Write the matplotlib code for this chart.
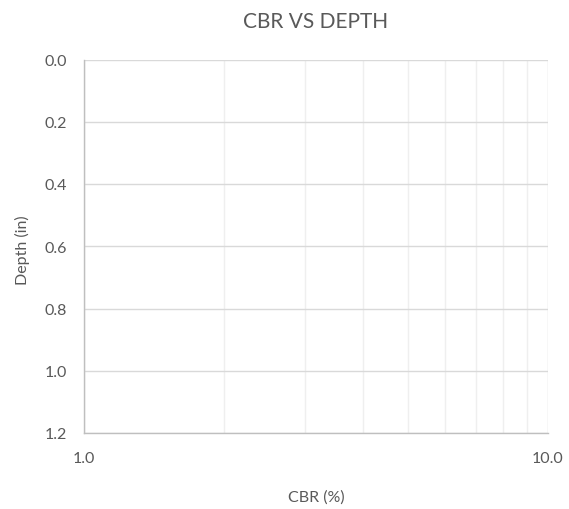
import matplotlib
matplotlib.use("Agg")
import matplotlib.pyplot as plt
from matplotlib.ticker import FixedLocator, FormatStrFormatter, NullFormatter

# Chart data (empty series; axes only)
cbr_values = []
depth_values = []
x_major_ticks = [1.0, 10.0]
x_minor_ticks = [2, 3, 4, 5, 6, 7, 8, 9]
y_ticks = [0.0, 0.2, 0.4, 0.6, 0.8, 1.0, 1.2]

plt.rcParams['font.family'] = ['Lato', 'DejaVu Sans']
txt = '#595959'

fig = plt.figure(figsize=(5.69, 5.10), dpi=100)
ax = fig.add_axes([84/569, 1-434/510, (548-84)/569, (434-60.5)/510])

ax.plot(cbr_values, depth_values)
ax.set_xscale('log')
ax.set_xlim(1, 10)
ax.set_ylim(1.2, 0.0)

ax.xaxis.set_major_locator(FixedLocator(x_major_ticks))
ax.xaxis.set_minor_locator(FixedLocator(x_minor_ticks))
ax.xaxis.set_major_formatter(FormatStrFormatter('%.1f'))
ax.xaxis.set_minor_formatter(NullFormatter())
ax.yaxis.set_major_locator(FixedLocator(y_ticks))
ax.yaxis.set_major_formatter(FormatStrFormatter('%.1f'))

ax.grid(True, which='major', color='#d9d9d9', linewidth=1.0)
ax.grid(True, which='minor', axis='x', color='#efefef', linewidth=1.0)
ax.set_axisbelow(True)

for s in ['top', 'right']:
    ax.spines[s].set_visible(False)
for s in ['left', 'bottom']:
    ax.spines[s].set_color('#bfbfbf')
    ax.spines[s].set_linewidth(1.0)

ax.tick_params(axis='both', which='both', length=0, colors=txt, labelsize=11.5)
ax.tick_params(axis='x', pad=13)
ax.tick_params(axis='y', pad=12)

fig.text(316/569, 1-22/510, 'CBR VS DEPTH', fontsize=15, color=txt,
         ha='center', va='center')
fig.text(316/569, 1-498/510, 'CBR (%)', fontsize=11.5, color=txt,
         ha='center', va='center')
fig.text(22/569, 1-250/510, 'Depth (in)', fontsize=11.5, color=txt,
         ha='center', va='center', rotation=90)

fig.savefig('out.png', dpi=100, facecolor='white')
